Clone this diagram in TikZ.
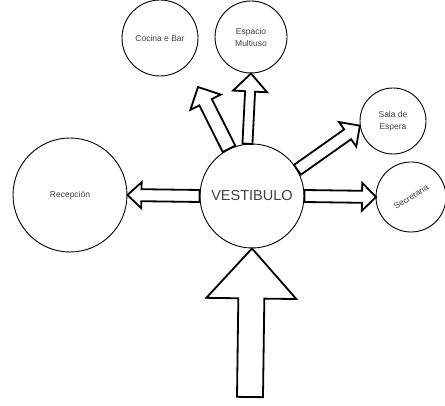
\documentclass[tikz,border=0pt]{standalone}
\usepackage{fontspec}
\setmainfont{Liberation Sans}
\usetikzlibrary{calc}
\tikzset{
  room/.style={draw=black, line width=0.9pt, circle, fill=white, inner sep=0pt, align=center, font=\fontsize{8.5}{10}\selectfont, text=black!75},
  arr/.style={draw=black, line width=1.8pt, fill=white, line join=miter},
}
\newcommand\blockarrow[5]{%
  \coordinate (h) at ($(#2)!#5!(#1)$);
  \draw[arr] ($(#1)!#3!90:(#2)$) -- ($(h)!#3!-90:(#1)$) -- ($(h)!#4!-90:(#1)$) -- (#2)
    -- ($(h)!#4!90:(#1)$) -- ($(h)!#3!90:(#1)$) -- ($(#1)!#3!-90:(#2)$) -- cycle;
}
\begin{document}
\begin{tikzpicture}[x=1pt,y=-1pt]
\useasboundingbox[fill=white] (0,0) rectangle (445,406);
\node[room, minimum size=104pt, font=\fontsize{14.5}{16}\selectfont] (vest) at (252,196) {VESTIBULO};
\node[room, minimum size=76pt] (coc) at (160,38) {Cocina e Bar};
\node[room, minimum size=72pt] (esp) at (251,37) {Espacio\\[2pt]Multiuso};
\node[room, minimum size=66pt] (sala) at (393,121) {Sala de\\[2pt]Espera};
\node[room, minimum size=70pt, rotate=32] (sec) at (411,197) {Secretaria};
\node[room, minimum size=114pt] (rec) at (70,195) {Recepción};
\coordinate (ul) at (198,87);
\coordinate (secw) at ($(sec.center)+(-35,0)$);
\coordinate (ent) at (250,397);
\blockarrow{vest.180}{rec.0}{6pt}{13pt}{14pt}
\blockarrow{vest.95}{esp.270}{5pt}{17pt}{18pt}
\blockarrow{vest.116}{ul}{7pt}{17pt}{17pt}
\blockarrow{vest.30}{sala.188}{6pt}{15pt}{15pt}
\blockarrow{vest.0}{secw}{6pt}{14pt}{14pt}
\blockarrow{ent}{vest.270}{13pt}{45pt}{50pt}
\end{tikzpicture}
\end{document}
